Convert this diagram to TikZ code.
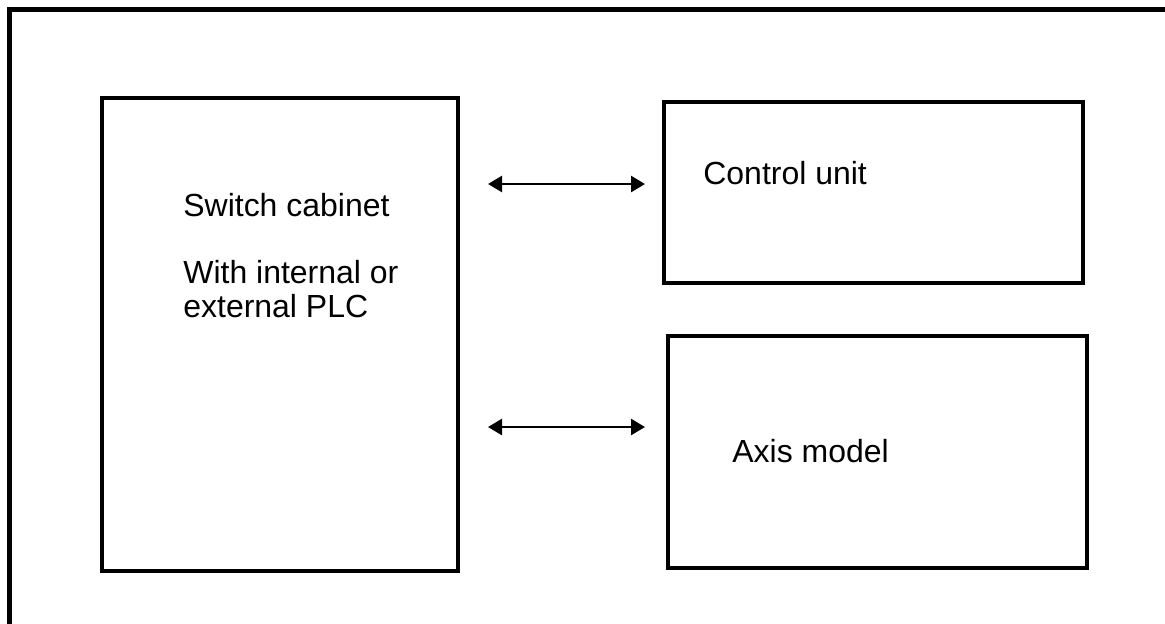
\documentclass[tikz,border=0pt]{standalone}
\usepackage{fontspec}
\setmainfont{Liberation Sans}
\usetikzlibrary{arrows.meta}
\tikzset{
  box/.style={draw, line width=0.09cm, inner sep=0pt},
  link/.style={line width=0.05cm, {Triangle[length=0.28cm, width=0.32cm]}-{Triangle[length=0.28cm, width=0.32cm]}},
  lbl/.style={anchor=base west, inner sep=0pt, font=\fontsize{18.2}{20}\selectfont}
}
\begin{document}
\begin{tikzpicture}[x=0.02cm, y=-0.02cm] %px
\useasboundingbox (0,0) rectangle (1165,623);
\draw[line width=0.1cm] (9.5,9.5) rectangle (1190,650);
\node[box, minimum width=7.12cm, minimum height=9.46cm] (P_0_0) at (280,334.5) {};
\node[box, minimum width=8.38cm, minimum height=3.62cm] (P_1_0) at (873.5,192.5) {};
\node[box, minimum width=8.38cm, minimum height=4.64cm] (P_1_1) at (877.5,452) {};
\node[lbl] (T_0_0) at (183,216) {Switch cabinet};
\node[lbl] (T_0_1) at (183,283) {With internal or};
\node[lbl] (T_0_2) at (183,317) {external PLC};
\node[lbl] (T_1_0) at (703,184) {Control unit};
\node[lbl] (T_1_1) at (732,462) {Axis model};
\coordinate (A_0_0) at (488,184);
\coordinate (A_1_0) at (645,184);
\draw[link] (A_0_0) -- (A_1_0);
\coordinate (A_0_1) at (488,427);
\coordinate (A_1_1) at (645,427);
\draw[link] (A_0_1) -- (A_1_1);
\end{tikzpicture}
\end{document}
